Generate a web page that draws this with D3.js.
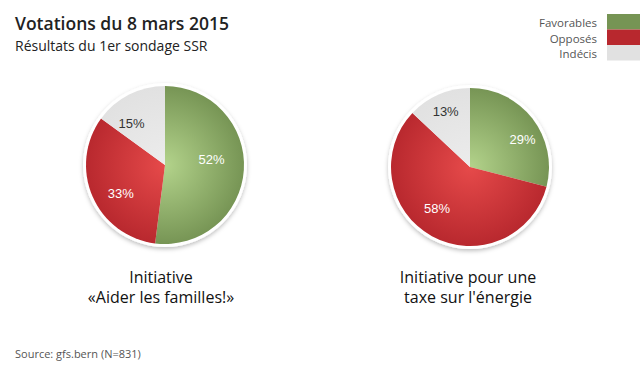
<!DOCTYPE html>
<html><head><meta charset="utf-8">
<script src="https://cdn.jsdelivr.net/npm/d3@7"></script>
<style>
body{margin:0;background:#fff;}
svg{display:block;}
</style></head>
<body>
<svg id="chart" width="640" height="375"></svg>
<script>
const categories = ["Favorables", "Opposés", "Indécis"];
const chartNames = [["Initiative", "«Aider les familles!»"], ["Initiative pour une", "taxe sur l'énergie"]];
const valuesFamilles = [52, 33, 15];
const valuesEnergie = [29, 58, 13];
const title = "Votations du 8 mars 2015";
const subtitle = "Résultats du 1er sondage SSR";
const source = "Source: gfs.bern (N=831)";

const colors = ["#769454", "#b8282e", "#e1e1e1"];
const innerColors = ["#b3d38b", "#e64a4a", "#ececec"];
const labelColors = ["#ffffff", "#ffffff", "#333333"];

const svg = d3.select("#chart");
const defs = svg.append("defs");

const f = defs.append("filter").attr("id","shadow").attr("x","-20%").attr("y","-20%").attr("width","140%").attr("height","140%");
f.append("feDropShadow").attr("dx",0).attr("dy",2).attr("stdDeviation",2).attr("flood-color","#000").attr("flood-opacity",0.25);

categories.forEach((c,i)=>{
  const g = defs.append("radialGradient").attr("id","grad"+i).attr("gradientUnits","userSpaceOnUse")
    .attr("cx",0).attr("cy",0).attr("r",80);
  g.append("stop").attr("offset","0%").attr("stop-color",innerColors[i]);
  g.append("stop").attr("offset","100%").attr("stop-color",colors[i]);
});

svg.append("text").attr("x",15).attr("y",30).text(title)
  .attr("font-family","Open Sans").attr("font-weight","600").attr("font-size",17.5).attr("fill","#222");
svg.append("text").attr("x",15).attr("y",51).text(subtitle)
  .attr("font-family","Open Sans").attr("font-size",14).attr("fill","#222");

// legend
const leg = svg.append("g");
categories.forEach((c,i)=>{
  leg.append("rect").attr("x",607).attr("y",14+i*15.5).attr("width",33).attr("height",15.5).attr("fill",colors[i]);
  leg.append("text").attr("x",597).attr("y",27+i*15.5).attr("text-anchor","end").text(c)
    .attr("font-family","Open Sans").attr("font-size",11.5).attr("fill","#555");
});

const pie = d3.pie().sort(null).value(d=>d);
const R = 79;
const arc = d3.arc().innerRadius(0).outerRadius(R);
const labelArc = d3.arc().innerRadius(R*0.68).outerRadius(R*0.68);

function drawPie(values, cx, cy, names, lx, nudge){
  const g = svg.append("g").attr("transform",`translate(${cx},${cy})`);
  g.append("circle").attr("r",R+3).attr("fill","#fff").attr("filter","url(#shadow)");
  const arcs = pie(values);
  g.selectAll("path").data(arcs).join("path").attr("d",arc).attr("fill",(d,i)=>`url(#grad${i})`);
  g.selectAll("text.lbl").data(arcs).join("text").attr("class","lbl")
    .attr("transform",(d,i)=>{const c=labelArc.centroid(d);return `translate(${c[0]+nudge[i][0]},${c[1]+nudge[i][1]})`;})
    .attr("text-anchor","middle").attr("dy","0.35em")
    .attr("font-family","Liberation Sans, Arial").attr("font-size",13)
    .attr("fill",(d,i)=>labelColors[i]).text(d=>d.data+"%");
  names.forEach((n,k)=>{
    svg.append("text").attr("x",lx).attr("y",283+k*20).attr("text-anchor","middle").text(n)
      .attr("font-family","Open Sans").attr("font-size",16).attr("fill","#111");
  });
}
drawPie(valuesFamilles, 165, 165, chartNames[0], 161, [[-7,-9],[5,7],[-9,6]]);
drawPie(valuesEnergie, 470, 167, chartNames[1], 468, [[10,5],[-7,-6],[-3,-6]]);

svg.append("text").attr("x",15).attr("y",358).text(source)
  .attr("font-family","Open Sans").attr("font-size",11).attr("fill","#555");
</script>
</body></html>
